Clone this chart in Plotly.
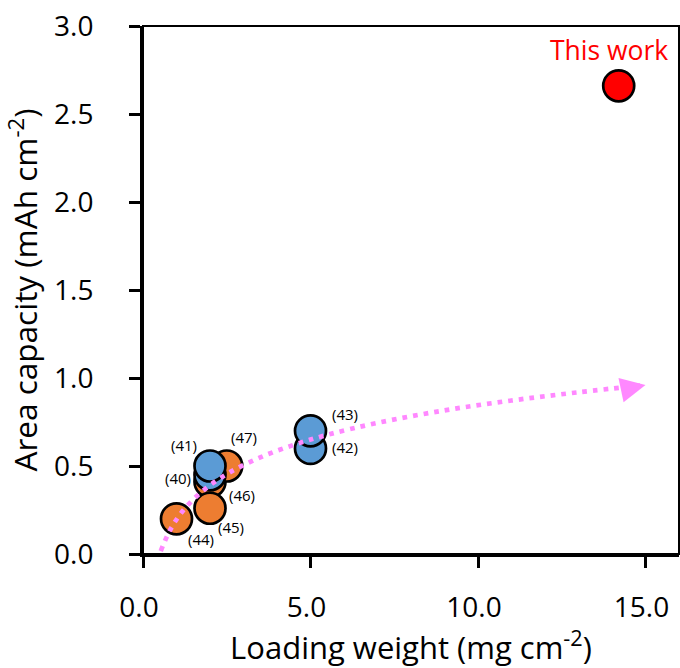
import plotly.graph_objects as go

# ---- data ----
orange_x = [1.0, 2.0, 2.0, 2.5]
orange_y = [0.20, 0.41, 0.26, 0.50]
orange_labels = ["(44)", "(46)", "(45)", "(47)"]

blue_x = [2.0, 2.0, 5.0, 5.0]
blue_y = [0.45, 0.50, 0.60, 0.70]
blue_labels = ["(40)", "(41)", "(42)", "(43)"]

work_x = [14.2]
work_y = [2.66]
work_label = "This work"

trend_x = [0.53, 0.8, 1.1, 1.5, 2.0, 2.6, 3.5, 4.5, 5.5, 7.0, 9.0, 11.0, 13.0, 15.0]
trend_y = [0.017, 0.133, 0.223, 0.310, 0.391, 0.465, 0.549, 0.620, 0.677, 0.745,
           0.816, 0.872, 0.919, 0.960]

x_ticks = [0, 5, 10, 15]
y_ticks = [0, 0.5, 1.0, 1.5, 2.0, 2.5, 3.0]

# ---- styles / positions (pixel offsets of labels from points) ----
orange_offsets = [(24, 20), (32, 13), (21, 19), (17, -29)]
blue_offsets = [(-32, 3), (-26, -21), (34, -1), (34, -17)]
work_offset = (-10, -36)

FONT = "Open Sans"
ORANGE = "#ED7D31"
BLUE = "#5B9BD5"
PINK = "#FF88FF"

fig = go.Figure()

marker_line = dict(color="black", width=2.7)
fig.add_trace(go.Scatter(x=orange_x, y=orange_y, mode="markers",
                         marker=dict(size=31, color=ORANGE, line=marker_line),
                         hoverinfo="skip", showlegend=False))
fig.add_trace(go.Scatter(x=blue_x, y=blue_y, mode="markers",
                         marker=dict(size=31, color=BLUE, line=marker_line),
                         hoverinfo="skip", showlegend=False))
fig.add_trace(go.Scatter(x=work_x, y=work_y, mode="markers",
                         marker=dict(size=31, color="#FF0000", line=marker_line),
                         hoverinfo="skip", showlegend=False))
fig.add_trace(go.Scatter(x=trend_x, y=trend_y, mode="lines",
                         line=dict(color=PINK, width=4.7, dash="4.7px,6px", shape="spline"),
                         hoverinfo="skip", showlegend=False))

# arrow head at end of trend
fig.add_annotation(x=trend_x[-1], y=trend_y[-1], ax=-12, ay=2.5,
                   showarrow=True, arrowhead=2, arrowsize=2.0, arrowwidth=2.5,
                   arrowcolor=PINK, text="", standoff=0)

for xs, ys, labs, offs in [(orange_x, orange_y, orange_labels, orange_offsets),
                           (blue_x, blue_y, blue_labels, blue_offsets)]:
    for x, y, t, (dx, dy) in zip(xs, ys, labs, offs):
        fig.add_annotation(x=x, y=y, text=t, showarrow=False,
                           xshift=dx, yshift=-dy,
                           font=dict(family=FONT, size=15, color="black"))

fig.add_annotation(x=work_x[0], y=work_y[0], text=work_label, showarrow=False,
                   xshift=work_offset[0], yshift=-work_offset[1],
                   font=dict(family=FONT, size=26.5, color="#FF0000"))

# box (top/right thinner border)
fig.add_shape(type="rect", xref="paper", yref="paper", x0=0, y0=0, x1=1, y1=1,
              line=dict(color="black", width=2), fillcolor="rgba(0,0,0,0)", layer="above")

axis_common = dict(showgrid=False, zeroline=False, showline=True, linecolor="black",
                   linewidth=3, ticks="outside", ticklen=11, tickwidth=2.5,
                   tickcolor="black", tickfont=dict(family=FONT, size=28, color="black"),
                   tickformat=".1f", automargin=False, ticklabeloverflow="allow")

fig.update_xaxes(range=[0, 16], tickvals=x_ticks, ticklabelstandoff=15, ticklabelshift=-4,
                 title=dict(text="Loading weight (mg cm<sup>-2</sup>)",
                            font=dict(family=FONT, size=31, color="black"), standoff=38),
                 **axis_common)
fig.update_yaxes(range=[0, 3], tickvals=y_ticks, ticklabelstandoff=30,
                 title=dict(text="Area capacity (mAh cm<sup>-2</sup>)",
                            font=dict(family=FONT, size=31.5, color="black"), standoff=8),
                 **axis_common)

fig.update_layout(width=680, height=668, margin=dict(l=143, r=1, t=26, b=114),
                  paper_bgcolor="white", plot_bgcolor="white")

# remove the default 8px page margin so the figure fills the window exactly
fig.write_html("out.html", config={"displayModeBar": False},
               post_script="document.body.style.margin='0';")
